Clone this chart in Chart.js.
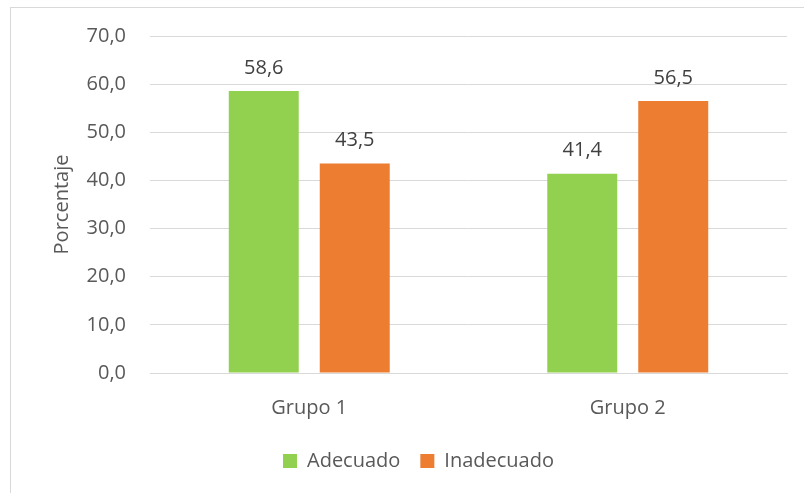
<!DOCTYPE html>
<html>
<head>
<meta charset="utf-8">
<script src="https://cdn.jsdelivr.net/npm/chart.js@4"></script>
<style>
  html, body { margin: 0; padding: 0; background: #fff; }
  #wrap { position: relative; width: 804px; height: 493px; }
  #frame { position: absolute; left: 10px; top: 7px; right: -5px; bottom: -5px;
           border-left: 1px solid #d9d9d9; border-top: 1px solid #d9d9d9; }
  canvas { position: absolute; left: 0; top: 0; }
</style>
</head>
<body>
<div id="wrap">
  <div id="frame"></div>
  <canvas id="chart1" width="804" height="493"></canvas>
</div>
<script>
// datos
const grupos = ['Grupo 1', 'Grupo 2']
const adecuado = [58.6, 41.4]
const inadecuado = [43.5, 56.5]
const tituloY = 'Porcentaje'

const fuente = 'Open Sans'
const gris = '#595959'

// escribe el valor encima de cada barra (coma decimal)
const etiquetas = {
  id: 'etiquetas',
  afterDatasetsDraw(chart) {
    const ctx = chart.ctx
    ctx.save()
    ctx.font = '20px "' + fuente + '"'
    ctx.fillStyle = '#404040'
    ctx.textAlign = 'center'
    ctx.textBaseline = 'middle'
    chart.data.datasets.forEach((ds, i) => {
      chart.getDatasetMeta(i).data.forEach((bar, j) => {
        ctx.fillText(ds.data[j].toFixed(1).replace('.', ','), bar.x, bar.y - 23)
      })
    })
    ctx.restore()
  }
}

var ctx = document.getElementById('chart1').getContext('2d')
var chart1 = new Chart(ctx, {
  type: 'bar',
  data: {
    labels: grupos,
    datasets: [{
      label: 'Adecuado',
      data: adecuado,
      backgroundColor: '#92D050'
    }, {
      label: 'Inadecuado',
      data: inadecuado,
      backgroundColor: '#ED7D31'
    }]
  },
  options: {
    responsive: false,
    animation: false,
    categoryPercentage: 0.5714,
    barPercentage: 0.769,
    layout: { padding: { left: 50, right: 17, top: 28, bottom: 12 } },
    plugins: {
      legend: {
        position: 'bottom',
        labels: {
          boxWidth: 14,
          boxHeight: 14,
          padding: 20,
          color: gris,
          font: { family: fuente, size: 20 }
        }
      },
      tooltip: { enabled: false }
    },
    scales: {
      x: {
        grid: { display: false, drawTicks: false },
        border: { color: '#d9d9d9', width: 1 },
        ticks: { color: gris, padding: 23, font: { family: fuente, size: 20 } },
        afterFit(s) { s.height = 58 }
      },
      y: {
        min: 0,
        max: 70,
        grid: { color: '#d9d9d9', drawTicks: false },
        border: { display: false },
        ticks: {
          stepSize: 10,
          color: gris,
          padding: 24,
          font: { family: fuente, size: 20 },
          callback: v => v.toFixed(1).replace('.', ',')
        },
        title: {
          display: true,
          text: tituloY,
          color: gris,
          padding: { top: 0, bottom: 6 },
          font: { family: fuente, size: 20 }
        },
        afterFit(s) { s.width = 100 }
      }
    }
  },
  plugins: [etiquetas]
})
</script>
</body>
</html>
